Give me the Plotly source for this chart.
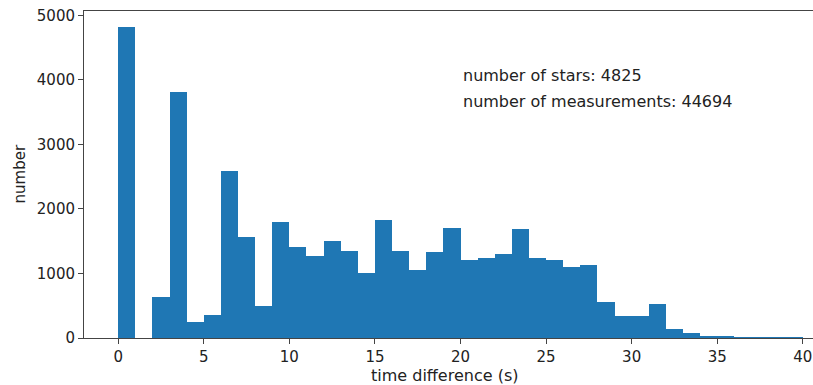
import plotly.graph_objects as go

bin_edges = list(range(0, 41))
counts = [4825, 0, 630, 3809, 255, 350, 2595, 1558, 496, 1792,
          1410, 1263, 1507, 1351, 1003, 1827, 1351, 1061, 1336, 1709,
          1211, 1247, 1299, 1694, 1237, 1216, 1103, 1138, 558, 334,
          334, 532, 143, 70, 25, 20, 15, 8, 10, 5]
annot_lines = ["number of stars: 4825", "number of measurements: 44694"]
annot_x = 20
annot_y = [4062, 3664]
x_ticks = [0, 5, 10, 15, 20, 25, 30, 35, 40]
y_ticks = [0, 1000, 2000, 3000, 4000, 5000]
x_label = "time difference (s)"
y_label = "number"

FONT = "DejaVu Sans"
TXT = "#222"
W, H = 837, 385
L, T, B = 84, 11, 47
fig = go.Figure()
fig.add_trace(go.Bar(
    x=bin_edges[:-1], y=counts, width=1, offset=0,
    marker=dict(color="#1f77b4", line=dict(width=0)),
    showlegend=False,
))
for txt, yy in zip(annot_lines, annot_y):
    fig.add_annotation(x=annot_x, y=yy, xref="x", yref="y", text=txt,
                       showarrow=False, xanchor="left", yanchor="middle",
                       font=dict(family=FONT, size=16, color=TXT))

pw = W - L
ph = H - T - B
fig.add_annotation(x=(444 - L) / pw, y=-(375 - (H - B)) / ph, xref="paper", yref="paper",
                   text=x_label, showarrow=False, xanchor="center", yanchor="middle",
                   font=dict(family=FONT, size=16, color=TXT))
fig.add_annotation(x=(19 - L) / pw, y=0.5, xref="paper", yref="paper", text=y_label,
                   showarrow=False, xanchor="center", yanchor="middle", textangle=-90,
                   font=dict(family=FONT, size=15, color=TXT))

fig.update_layout(
    width=W, height=H,
    margin=dict(l=L, r=0, t=T, b=B, autoexpand=False),
    paper_bgcolor="white", plot_bgcolor="white",
    bargap=0,
    font=dict(family=FONT, color=TXT),
)
fig.update_xaxes(
    range=[-2, 42], tickvals=x_ticks, ticktext=[str(v) for v in x_ticks],
    showgrid=False, zeroline=False, showline=True, linecolor="#444", linewidth=1,
    mirror=True, ticks="outside", ticklen=5, tickcolor="#444", automargin=False,
    ticklabeloverflow="allow",
    tickfont=dict(family=FONT, size=15, color=TXT),
)
fig.update_yaxes(
    range=[0, 5066], tickvals=y_ticks, ticktext=[str(v) for v in y_ticks],
    showgrid=False, zeroline=False, showline=True, linecolor="#444", linewidth=1,
    mirror=True, ticks="outside", ticklen=5, tickcolor="#444", automargin=False,
    tickfont=dict(family=FONT, size=15, color=TXT),
)
fig.write_html(
    "out.html",
    config={"displayModeBar": False, "responsive": False},
    default_width=f"{W}px", default_height=f"{H}px",
    post_script="document.documentElement.style.overflow='hidden';document.body.style.margin='0';document.body.style.overflow='hidden';",
)
